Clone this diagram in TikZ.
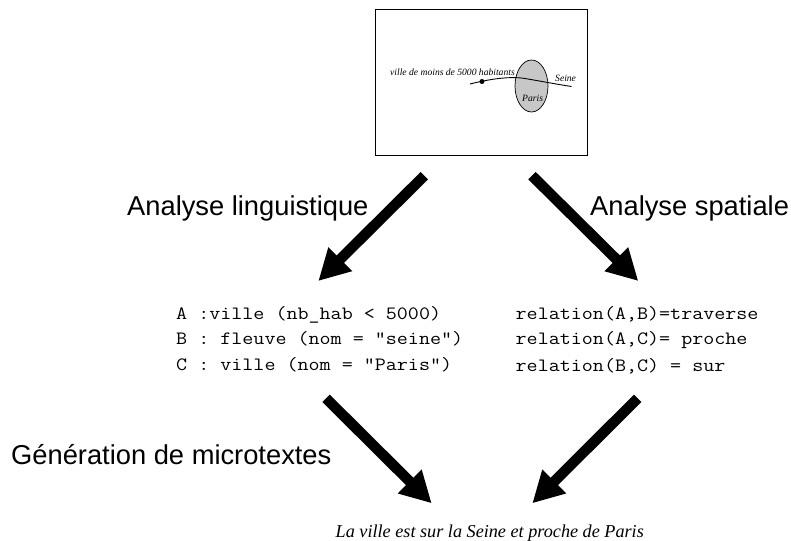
\documentclass[tikz,border=0pt]{standalone}
\usepackage{fontspec}
\setmainfont{Liberation Serif}
\setsansfont{Liberation Sans}
\setmonofont[FakeStretch=1.14]{Latin Modern Mono}
\usetikzlibrary{arrows.meta,shapes.geometric}
\tikzset{
  bigarrow/.style={line width=10.5pt,-{Triangle[length=31pt,width=31.5pt]}},
  lab/.style={inner sep=0pt,anchor=base west,font=\sffamily\fontsize{27.3}{27.3}\selectfont},
  mono/.style={inner sep=0pt,anchor=base west,font=\ttfamily\fontsize{18.8}{18.8}\selectfont},
  small/.style={inner sep=0pt,anchor=base west,font=\itshape\fontsize{9.6}{9.6}\selectfont},
  caption/.style={inner sep=0pt,anchor=base west,font=\itshape\fontsize{18.2}{18.2}\selectfont}
}
\begin{document}
\begin{tikzpicture}[x=1pt,y=-1pt]
\useasboundingbox (0,0) rectangle (791,540);
\node[draw=black,line width=0.8pt,minimum width=212pt,minimum height=146pt,inner sep=0pt] (frame) at (481,82.5) {};
\node[draw=black,fill=black!22,ellipse,line width=0.7pt,minimum width=33pt,minimum height=52pt,inner sep=0pt] (paris) at (531.5,86) {};
\coordinate (s0) at (470,84);
\coordinate (s1) at (571.5,86.5);
\draw[line width=0.9pt] (s0) .. controls (490,79) and (510,76) .. (525,78.5) .. controls (540,81) and (555,84) .. (s1);
\node[fill=black,circle,minimum size=5pt,inner sep=0pt] (dot) at (482,81.5) {};
\node[small] (vl) at (390,75.5) {ville de moins de 5000 habitants};
\node[small] (se) at (555,81.5) {Seine};
\node[small] (pa) at (522,102) {Paris};
\coordinate (a1s) at (424.3,175.7); \coordinate (a1e) at (318.3,281);
\coordinate (a2s) at (532,175.7); \coordinate (a2e) at (638.3,281);
\coordinate (a3s) at (326,398.3); \coordinate (a3e) at (431.7,503.3);
\coordinate (a4s) at (637.7,398.3); \coordinate (a4e) at (532.3,503.3);
\draw[bigarrow] (a1s) -- (a1e);
\draw[bigarrow] (a2s) -- (a2e);
\draw[bigarrow] (a3s) -- (a3e);
\draw[bigarrow] (a4s) -- (a4e);
\node[lab] (l1) at (127,215.5) {Analyse linguistique};
\node[lab] (l2) at (590,215.5) {Analyse spatiale};
\node[lab] (l3) at (11,464) {Génération de microtextes};
\node[mono] (m1) at (176,319) {A :ville (nb\_hab < 5000)};
\node[mono] (m2) at (176,344.5) {B : fleuve (nom = "seine")};
\node[mono] (m3) at (176,370) {C : ville (nom = "Paris")};
\node[mono] (r1) at (515.5,319) {relation(A,B)=traverse};
\node[mono] (r2) at (515.5,344.5) {relation(A,C)= proche};
\node[mono] (r3) at (515.5,371) {relation(B,C) = sur};
\node[caption] (cap) at (335.5,537.5) {La ville est sur la Seine et proche de Paris};
\end{tikzpicture}
\end{document}
